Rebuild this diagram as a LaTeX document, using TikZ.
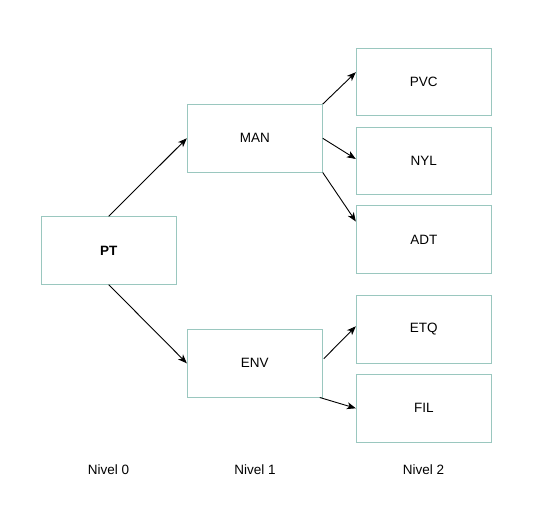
\documentclass[tikz,border=0pt]{standalone}
\usepackage{fontspec}
\setmainfont{Liberation Sans}
\usetikzlibrary{arrows.meta}
\definecolor{boxline}{RGB}{154,199,191}
\tikzset{
  box/.style={draw=boxline, line width=0.9pt, minimum width=135pt, minimum height=67.5pt, inner sep=0pt, font=\fontsize{13.5}{16}\selectfont},
  lbl/.style={font=\fontsize{13.5}{16}\selectfont},
  conn/.style={draw=black, line width=0.9pt, -{Stealth[length=9pt,width=7pt,inset=2.5pt]}}
}
\begin{document}
\begin{tikzpicture}[x=1pt,y=-1pt]
\useasboundingbox (0,0) rectangle (536,521);
\node[box] (PT) at (108.75,250.5) {\textbf{PT}};
\node[box] (MAN) at (254.8,138.3) {MAN};
\node[box] (ENV) at (254.8,363.3) {ENV};
\node[box] (PVC) at (423.8,82.2) {PVC};
\node[box] (NYL) at (423.8,161) {NYL};
\node[box] (ADT) at (423.8,239.5) {ADT};
\node[box] (ETQ) at (423.8,329.3) {ETQ};
\node[box] (FIL) at (423.8,408.3) {FIL};
\node[lbl] (n0) at (108.5,470) {Nivel 0};
\node[lbl] (n1) at (255,470) {Nivel 1};
\node[lbl] (n2) at (423.5,470) {Nivel 2};
\draw[conn] (PT.north) -- (MAN.west);
\draw[conn] (PT.south) -- (ENV.west);
\draw[conn] (MAN.north east) -- ([yshift=10pt]PVC.west);
\draw[conn] (MAN.east) -- ([yshift=2pt]NYL.west);
\draw[conn] (MAN.south east) -- ([yshift=18pt]ADT.west);
\draw[conn] ([xshift=1pt,yshift=4.6pt]ENV.east) -- ([yshift=3pt]ETQ.west);
\draw[conn] ([xshift=-3pt]ENV.south east) -- (FIL.west);
\end{tikzpicture}
\end{document}
